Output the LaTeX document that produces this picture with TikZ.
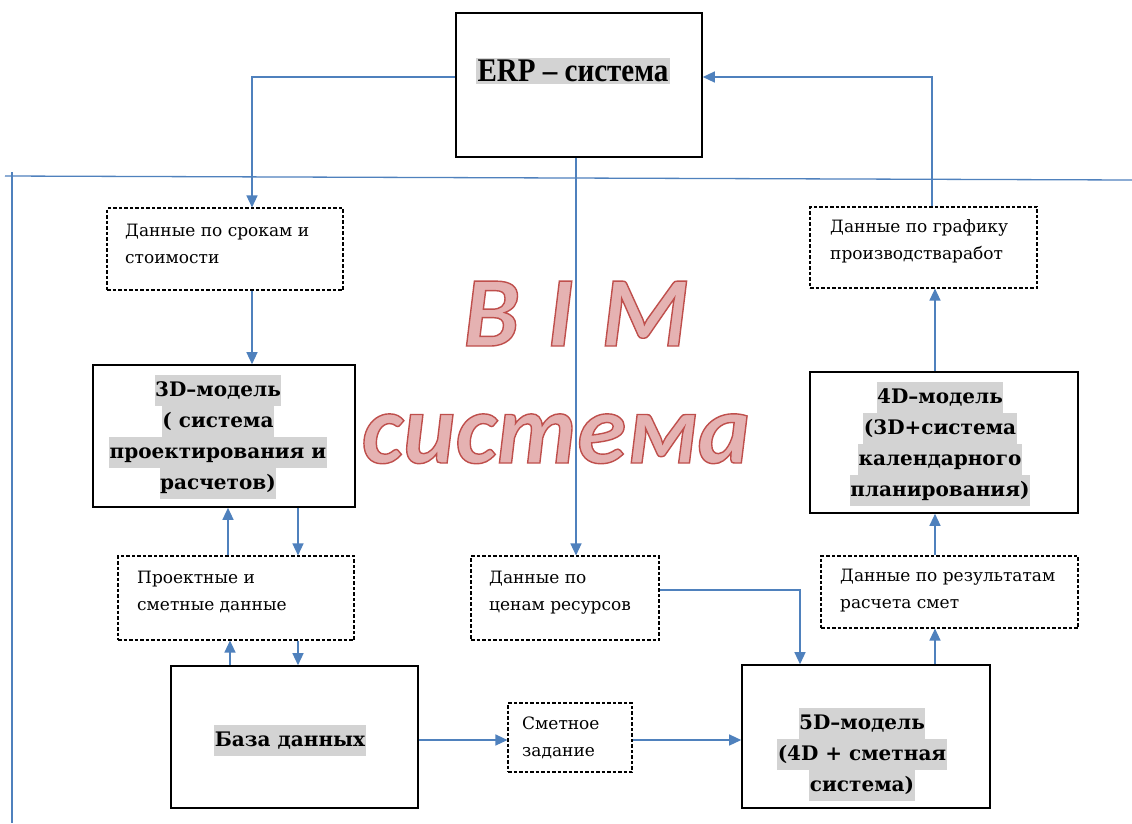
\documentclass[tikz,border=0pt]{standalone}
\usepackage{fontspec}
\usepackage{graphicx}
\usetikzlibrary{arrows.meta,calc}
\setmainfont{DejaVu Serif}
\newfontfamily\erpfont{Liberation Serif}
\newfontfamily\bimfont{Carlito}
\definecolor{lnblue}{HTML}{4F81BD}
\definecolor{hlgray}{HTML}{D3D3D3}
\definecolor{bimfill}{HTML}{E5B2B2}
\newcommand\hlt[1]{{\setlength{\fboxsep}{0.5pt}\colorbox{hlgray}{\strut #1}}}
\newcommand\zeroskip{\setlength{\lineskip}{0pt}}
\newcommand\outlined[1]{\color{bimfill}\special{pdf:literal direct 2 Tr 1.4 w 0.75 0.31 0.30 RG}#1\special{pdf:literal direct 0 Tr}}
\begin{document}
\begin{tikzpicture}[x=1pt,y=-1pt,
  sbox/.style={draw=black,line width=1.6pt,inner sep=0pt},
  dbox/.style={draw=black,line width=1.1pt,dashed,dash pattern=on 3.5pt off 2pt,inner sep=0pt},
  dtext/.style={anchor=west,align=left,inner sep=0pt,font=\fontsize{17}{27}\selectfont},
  btext/.style={align=center,inner sep=0pt,font=\fontsize{20}{30}\selectfont\bfseries\zeroskip},
  conn/.style={draw=lnblue,line width=1.3pt},
  arr/.style={conn,-{Triangle[length=12pt,width=11pt]}},
  bim/.style={inner sep=0pt,anchor=base,font=\bimfont\bfseries\itshape\fontsize{100}{110}\selectfont}]
\useasboundingbox (0,0) rectangle (1132,823);
\fill[white] (0,0) rectangle (1132,823);

% BIM boundary
\coordinate (hl) at (5,176);
\coordinate (hr) at (1132,180);
\coordinate (vt) at (12,172);
\coordinate (vb) at (12,823);
\draw[conn] (hl) -- (hr);
\draw[conn] (vt) -- (vb);

% boxes
\node[sbox,fill=white,minimum width=246pt,minimum height=144pt] (erp) at (579,85) {};
\node[inner sep=0pt,font=\erpfont\bfseries\fontsize{33}{35}\selectfont] (erpT) at (573,71)
  {\scalebox{0.88}[1]{\setlength{\fboxsep}{2pt}\colorbox{hlgray}{ERP – система}}};

\node[dbox,minimum width=236pt,minimum height=82pt] (srok) at (225,249) {};
\node[dtext] (srokT) at (125,243.5) {Данные по срокам и\\стоимости};

\node[sbox,minimum width=262pt,minimum height=142pt] (m3d) at (224,436) {};
\node[btext] (m3dT) at (218,437) {\hlt{3D–модель}\\\hlt{( система}\\\hlt{проектирования и}\\\hlt{расчетов)}};

\node[dbox,minimum width=236pt,minimum height=84pt] (proekt) at (236,598) {};
\node[dtext] (proektT) at (137,592) {Проектные и\\сметные данные};

\node[sbox,minimum width=247pt,minimum height=142pt] (baza) at (294.5,737) {};
\node[btext] (bazaT) at (290,740) {\hlt{База данных}};

\node[dbox,minimum width=124pt,minimum height=69pt] (smetn) at (570,737.5) {};
\node[dtext] (smetnT) at (522,737.5) {Сметное\\задание};

\node[dbox,minimum width=188pt,minimum height=84pt] (ceny) at (565,598) {};
\node[dtext] (cenyT) at (489,593) {Данные по\\ценам ресурсов};

\node[sbox,minimum width=248pt,minimum height=143pt] (m5d) at (866,736.5) {};
\node[btext] (m5dT) at (862,754) {\hlt{5D–модель}\\\hlt{(4D + сметная}\\\hlt{система)}};

\node[dbox,minimum width=257pt,minimum height=72pt] (rez) at (949.5,592) {};
\node[dtext] (rezT) at (840,591) {Данные по результатам\\расчета смет};

\node[sbox,minimum width=268pt,minimum height=141pt] (m4d) at (944,442.5) {};
\node[btext] (m4dT) at (940,444) {\hlt{4D–модель}\\\hlt{(3D+система}\\\hlt{календарного}\\\hlt{планирования)}};

\node[dbox,minimum width=227pt,minimum height=81pt] (graf) at (923.5,247.5) {};
\node[dtext] (grafT) at (830,241.5) {Данные по графику\\производстваработ};

% connectors
\draw[arr] (erp.west |- 0,77) -- (252,77) -- (srok.north -| 252,0);
\draw[arr] (graf.north -| 932,0) -- (932,77) -- (erp.east |- 0,77);
\draw[arr] (erp.south -| 576,0) -- (ceny.north -| 576,0);
\draw[arr] (srok.south -| 252,0) -- (m3d.north -| 252,0);
\draw[arr] (proekt.north -| 228,0) -- (m3d.south -| 228,0);
\draw[arr] (m3d.south -| 298,0) -- (proekt.north -| 298,0);
\draw[arr] (baza.north -| 230,0) -- (proekt.south -| 230,0);
\draw[arr] (proekt.south -| 298,0) -- (baza.north -| 298,0);
\draw[arr] (baza.east |- 0,740) -- (smetn.west |- 0,740);
\draw[arr] (smetn.east |- 0,740) -- (m5d.west |- 0,740);
\draw[arr] (ceny.east |- 0,590) -- (800,590) -- (m5d.north -| 800,0);
\draw[arr] (m5d.north -| 935,0) -- (rez.south -| 935,0);
\draw[arr] (rez.north -| 935,0) -- (m4d.south -| 935,0);
\draw[arr] (m4d.north -| 935,0) -- (graf.south -| 935,0);

% BIM label
\node[bim] (bimA) at (576,346) {\outlined{B\hspace{0.05em} I\hspace{0.05em} M}};
\node[bim] (bimB) at (556,463) {\outlined{система}};
\end{tikzpicture}
\end{document}
